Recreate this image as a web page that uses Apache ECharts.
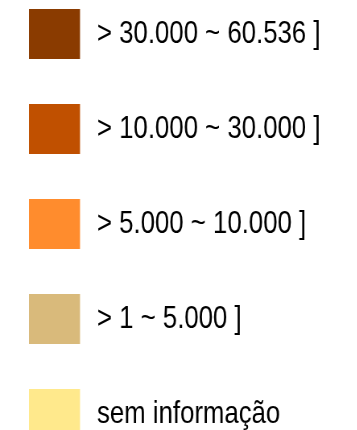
<!DOCTYPE html>
<html>
<head>
<meta charset="utf-8">
<style>
  html, body { margin: 0; padding: 0; background: #ffffff; overflow: hidden; }
  #wrap { width: 357px; height: 430px; overflow: hidden; }
  /* the legend is laid out wider, then squeezed horizontally for a narrow typeface look */
  #chart { width: 443px; height: 430px; transform: scaleX(0.805); transform-origin: 0 0; }
</style>
<script src="https://cdn.jsdelivr.net/npm/echarts@6/dist/echarts.min.js"></script>
</head>
<body>
<div id="wrap"><div id="chart"></div></div>
<script>
// Legend classes (population ranges) and their fill colours
var classLabels = [
  '> 30.000 ~ 60.536 ]',
  '> 10.000 ~ 30.000 ]',
  '> 5.000 ~ 10.000 ]',
  '> 1 ~ 5.000 ]',
  'sem informação'
];
var classColors = ['#8a3b00', '#c05000', '#ff8c2d', '#d9ba7b', '#ffe98c'];

var SX = 0.805; // horizontal squeeze applied to the chart element

var chart = echarts.init(document.getElementById('chart'), null, { renderer: 'canvas' });

var pieces = classLabels.map(function (label, i) {
  return { value: i, label: label, color: classColors[i] };
});

chart.setOption({
  backgroundColor: '#ffffff',
  animation: false,
  visualMap: {
    type: 'piecewise',
    orient: 'vertical',
    inverse: true,
    left: 29 / SX,
    top: 9,
    padding: 0,
    itemWidth: 51 / SX,
    itemHeight: 50,
    itemGap: 45,
    itemSymbol: 'rect',
    textGap: 17 / SX,
    selectedMode: false,
    pieces: pieces,
    textStyle: {
      fontFamily: '"Liberation Sans", Arial, Helvetica, sans-serif',
      fontSize: 32,
      color: '#000000'
    }
  },
  series: []
});
</script>
</body>
</html>
